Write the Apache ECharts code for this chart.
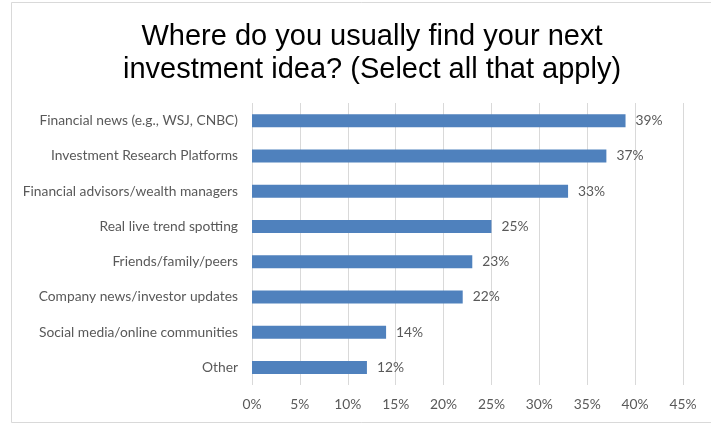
<!DOCTYPE html>
<html>
<head>
<meta charset="utf-8">
<script src="https://cdn.jsdelivr.net/npm/echarts@6/dist/echarts.min.js"></script>
<style>
  html, body { margin: 0; padding: 0; background: #fff; }
  #chart { width: 711px; height: 424px; }
</style>
</head>
<body>
<div id="chart"></div>
<script>
// Survey answers, listed top to bottom as shown
const categories = [
  'Financial news (e.g., WSJ, CNBC)',
  'Investment Research Platforms',
  'Financial advisors/wealth managers',
  'Real live trend spotting',
  'Friends/family/peers',
  'Company news/investor updates',
  'Social media/online communities',
  'Other'
];
// Share of respondents (%)
const shares = [39, 37, 33, 25, 23, 22, 14, 12];
// Value axis range and step (%)
const axisMin = 0;
const axisMax = 45;
const axisStep = 5;

const labelFont = 'Lato, "Open Sans", sans-serif';
const labelSize = 13.8;
const textGray = '#595959';

const chart = echarts.init(document.getElementById('chart'), null, { renderer: 'canvas' });

chart.setOption({
  animation: false,
  backgroundColor: '#ffffff',
  title: {
    text: 'Where do you usually find your next\ninvestment idea? (Select all that apply)',
    left: 367,
    top: 15,
    textAlign: 'center',
    textStyle: {
      fontFamily: '"Liberation Sans", Arial, sans-serif',
      fontSize: 29,
      fontWeight: 'normal',
      color: '#000000',
      lineHeight: 33
    }
  },
  graphic: [{
    type: 'rect',
    silent: true,
    shape: { x: 11.5, y: 2.5, width: 720, height: 420 },
    style: { fill: 'none', stroke: '#d9d9d9', lineWidth: 1 }
  }],
  grid: {
    left: 252,
    right: 711 - 683,
    top: 103,
    bottom: 424 - 385,
    containLabel: false
  },
  xAxis: {
    type: 'value',
    min: axisMin,
    max: axisMax,
    interval: axisStep,
    axisLine: { show: false },
    axisTick: { show: false },
    splitLine: { show: true, lineStyle: { color: '#d9d9d9', width: 1 } },
    axisLabel: {
      formatter: '{value}%',
      margin: 13,
      color: textGray,
      fontFamily: labelFont,
      fontSize: labelSize
    }
  },
  yAxis: {
    type: 'category',
    data: categories,
    inverse: true,
    axisLine: { show: false },
    axisTick: { show: false },
    splitLine: { show: false },
    axisLabel: {
      margin: 14,
      color: textGray,
      fontFamily: labelFont,
      fontSize: labelSize
    }
  },
  series: [{
    type: 'bar',
    data: shares,
    barWidth: 13,
    itemStyle: { color: '#4F81BD' },
    label: {
      show: true,
      position: 'right',
      distance: 10,
      formatter: '{c}%',
      color: textGray,
      fontFamily: labelFont,
      fontSize: labelSize
    }
  }]
});
</script>
</body>
</html>
